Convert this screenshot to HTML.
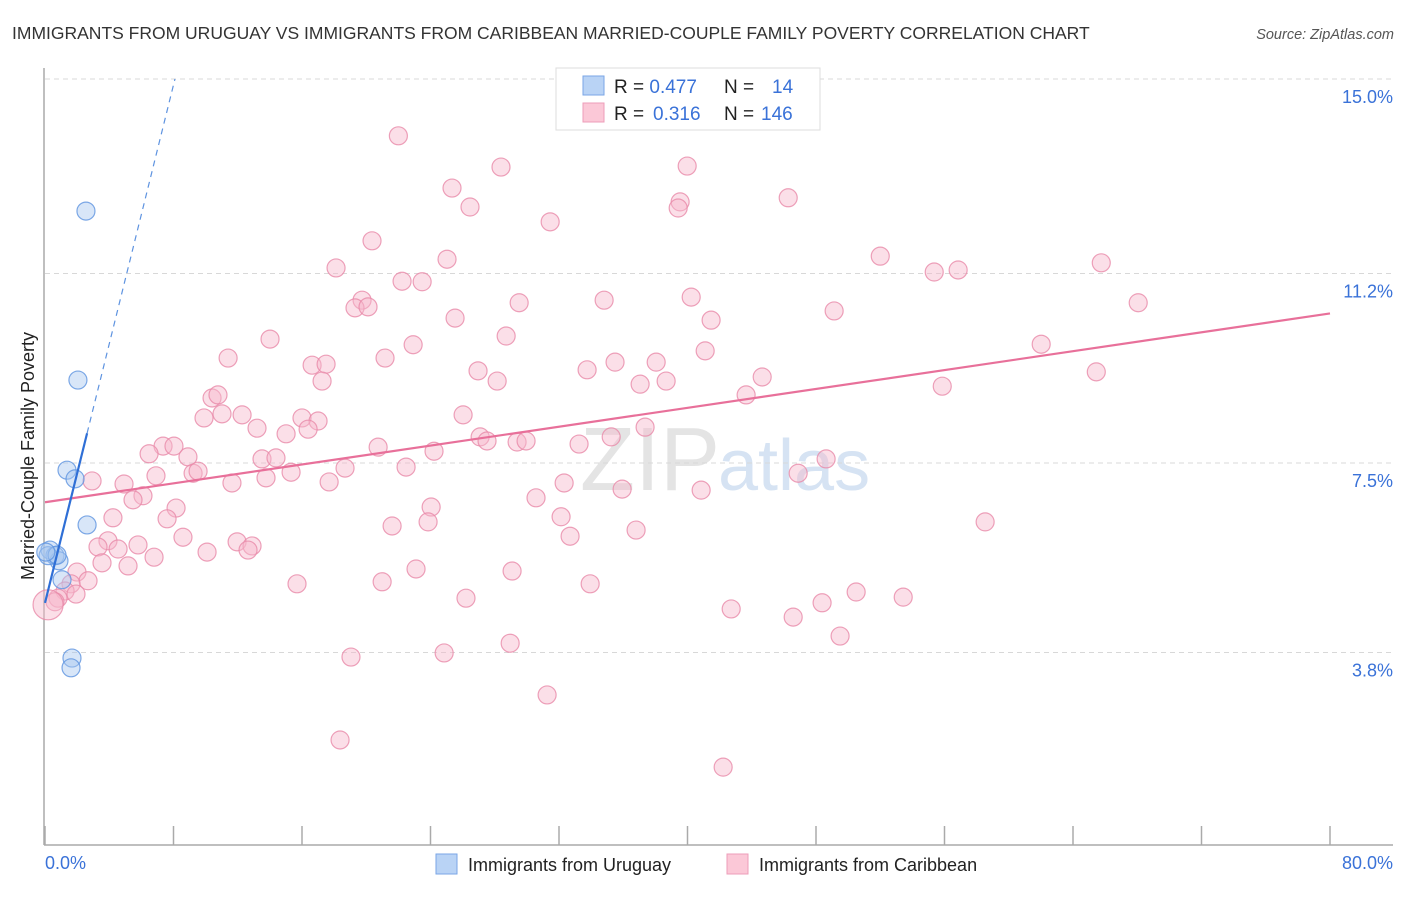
<!DOCTYPE html>
<html><head><meta charset="utf-8"><style>
body{margin:0;background:#fff;font-family:"Liberation Sans",sans-serif;}
svg text{font-family:"Liberation Sans",sans-serif;}
</style></head><body>
<svg id="chart" width="1406" height="892">
<text x="12" y="39" font-size="17.5" fill="#333">IMMIGRANTS FROM URUGUAY VS IMMIGRANTS FROM CARIBBEAN MARRIED-COUPLE FAMILY POVERTY CORRELATION CHART</text>
<text x="1394" y="39" font-size="14.5" fill="#555" font-style="italic" text-anchor="end">Source: ZipAtlas.com</text>
<text x="720" y="490" font-size="90" fill="#e4e4e4" text-anchor="end" font-family="Liberation Serif">ZIP</text>
<text x="718" y="490" font-size="72" fill="#d6e3f3">atlas</text>
<g id="grid"></g><g id="pts"></g><g id="lines"></g>
<text transform="translate(34,456) rotate(-90)" font-size="18" fill="#222" text-anchor="middle">Married-Couple Family Poverty</text>
<text x="45" y="869" font-size="18" fill="#3a72d8">0.0%</text>
<text x="1393" y="869" font-size="18" fill="#3a72d8" text-anchor="end">80.0%</text>
<g>
<rect x="556" y="68" width="264" height="62" fill="#fff" stroke="#ddd"/>
<rect x="583" y="76" width="21" height="19" fill="#b9d3f5" stroke="#7aa6e6"/>
<rect x="583" y="103" width="21" height="19" fill="#fbc8d7" stroke="#ee9db8"/>
<text x="614" y="93" font-size="19" fill="#222">R = <tspan fill="#3a72d8">0.477</tspan><tspan x="724">N = </tspan><tspan x="772" fill="#3a72d8">14</tspan></text>
<text x="614" y="120" font-size="19" fill="#222">R = <tspan x="653" fill="#3a72d8">0.316</tspan><tspan x="724">N = </tspan><tspan x="761" fill="#3a72d8">146</tspan></text>
</g>
<g>
<rect x="436" y="854" width="21" height="20" fill="#b9d3f5" stroke="#7aa6e6"/>
<text x="468" y="871" font-size="18" fill="#222">Immigrants from Uruguay</text>
<rect x="727" y="854" width="21" height="20" fill="#fbc8d7" stroke="#ee9db8"/>
<text x="759" y="871" font-size="18" fill="#222">Immigrants from Caribbean</text>
</g>
</svg>
<script>
const yTicks=[15.0,11.2,7.5,3.8];
const yTickLabels=["15.0%","11.2%","7.5%","3.8%"];
const xTicks=[0,8,16,24,32,40,48,56,64,72,80];
const blueX=[2.55,2.05,1.37,1.87,2.62,0.31,0.62,0.87,0.19,1.06,1.68,1.62,0.75,0.05];
const blueY=[12.42,9.12,7.36,7.19,6.29,5.80,5.69,5.59,5.69,5.22,3.69,3.50,5.70,5.76];
const pinkX=[22.0,28.39,39.98,25.34,26.46,39.54,39.42,46.27,31.45,20.36,52.0,25.03,18.12,55.36,56.85,65.76,22.23,23.48,29.52,34.81,40.23,19.74,19.30,20.11,49.13,68.06,25.53,41.47,14.01,28.71,22.92,11.40,16.63,17.50,21.17,41.10,62.02,35.49,38.05,33.75,26.96,17.25,28.15,37.05,38.67,44.65,65.45,55.86,10.40,10.77,43.65,9.90,11.02,12.27,26.03,16.00,17.00,16.38,13.20,15.01,37.36,7.35,8.03,8.90,6.48,20.74,27.09,27.52,29.39,29.95,33.25,35.25,24.22,13.51,14.38,9.22,9.53,18.68,22.48,48.63,46.89,2.93,4.92,6.91,11.64,13.76,15.32,17.69,32.32,40.85,35.93,6.10,5.48,8.16,30.57,24.04,4.23,7.60,21.61,23.85,32.13,36.80,58.53,8.59,3.92,3.30,4.55,5.79,11.96,12.89,12.64,10.09,32.69,6.79,3.55,5.17,1.99,23.10,29.08,15.69,20.99,33.94,2.68,1.62,1.25,0.81,1.93,0.62,26.21,50.50,53.43,48.38,42.72,46.58,49.50,28.96,24.85,19.05,31.26,18.37,42.22,0.19];
const pinkY=[13.89,13.28,13.30,12.87,12.50,12.60,12.48,12.68,12.21,11.84,11.54,11.48,11.31,11.23,11.27,11.41,11.05,11.04,10.63,10.68,10.74,10.68,10.53,10.55,10.47,10.63,10.33,10.29,9.92,9.98,9.81,9.55,9.41,9.43,9.55,9.69,9.82,9.47,9.47,9.32,9.30,9.10,9.10,9.04,9.10,9.18,9.28,9.00,8.77,8.83,8.83,8.38,8.46,8.44,8.44,8.38,8.32,8.16,8.18,8.07,8.20,7.83,7.83,7.62,7.68,7.81,8.01,7.93,7.91,7.93,7.87,8.01,7.73,7.58,7.60,7.30,7.34,7.40,7.42,7.58,7.30,7.15,7.09,7.25,7.11,7.21,7.32,7.13,7.11,6.97,6.99,6.86,6.78,6.62,6.82,6.64,6.43,6.41,6.27,6.35,6.45,6.19,6.35,6.05,5.98,5.86,5.82,5.90,5.96,5.88,5.80,5.76,6.07,5.66,5.55,5.49,5.37,5.43,5.39,5.14,5.18,5.14,5.20,5.14,5.00,4.86,4.94,4.79,4.86,4.98,4.88,4.77,4.65,4.49,4.12,3.98,3.79,3.71,2.97,2.09,1.56,4.73];
const NS="http://www.w3.org/2000/svg";
const sx=v=>45+v*(1330-45)/80;
const sy=v=>79+(15-v)*51.2;
function mk(tag,attrs,parent){const e=document.createElementNS(NS,tag);for(const k in attrs)e.setAttribute(k,attrs[k]);parent.appendChild(e);return e;}
const grid=document.getElementById('grid'),pts=document.getElementById('pts'),lines=document.getElementById('lines');
yTicks.forEach((t,i)=>{
 const l=mk('line',{x1:45,x2:1393,y1:sy(t),y2:sy(t),stroke:'#d8d8d8','stroke-dasharray':'5,4'},grid);
 
 
 const tx=mk('text',{x:1393,y:sy(t)+24,'font-size':18,fill:'#3a72d8','text-anchor':'end'},grid);
 tx.textContent=yTickLabels[i];
 
 
});
const ax=mk('line',{x1:44,x2:44,y1:68,y2:845,stroke:'#aaa','stroke-width':1.5},grid);


const bx=mk('line',{x1:44,x2:1393,y1:845,y2:845,stroke:'#aaa','stroke-width':1.5},grid);


xTicks.forEach(t=>{
 const l=mk('line',{x1:sx(t),x2:sx(t),y1:826,y2:845,stroke:'#aaa','stroke-width':1.5},grid);
 
 
});
function dot(x,y,r,fill,stroke,name){
 const c=mk('circle',{cx:sx(x),cy:sy(y),r:r,fill:fill,'fill-opacity':0.45,stroke:stroke,'stroke-opacity':0.8,'stroke-width':1.2},pts);
 
 
}
pinkX.forEach((x,i)=>dot(x,pinkY[i],i===pinkX.length-1?15:9,'#f7b8cb','#e88aa9','point-caribbean'));
blueX.forEach((x,i)=>dot(x,blueY[i],9,'#a9c8f0','#5e93e0','point-uruguay'));
function fit(X,Y){const n=X.length;let mx=0,my=0;X.forEach((v,i)=>{mx+=v;my+=Y[i]});mx/=n;my/=n;let sxy=0,sxx=0;X.forEach((v,i)=>{sxy+=(v-mx)*(Y[i]-my);sxx+=(v-mx)*(v-mx)});const b=sxy/sxx;return [my-b*mx,b];}
const pf=fit(pinkX,pinkY);
const pl=mk('line',{x1:sx(0),y1:sy(pf[0]),x2:sx(80),y2:sy(pf[0]+pf[1]*80),stroke:'#e8709a','stroke-width':2.2},lines);


const bf=fit(blueX,blueY);
const bxMax=Math.max(...blueX);
const bl=mk('line',{x1:sx(0),y1:sy(bf[0]),x2:sx(bxMax),y2:sy(bf[0]+bf[1]*bxMax),stroke:'#2f6fd6','stroke-width':2.2},lines);


const xEnd=(15-bf[0])/bf[1];
const bd=mk('line',{x1:sx(bxMax),y1:sy(bf[0]+bf[1]*bxMax),x2:sx(xEnd),y2:sy(15),stroke:'#5e93e0','stroke-width':1.2,'stroke-dasharray':'6,5'},lines);


</script>
</body></html>
